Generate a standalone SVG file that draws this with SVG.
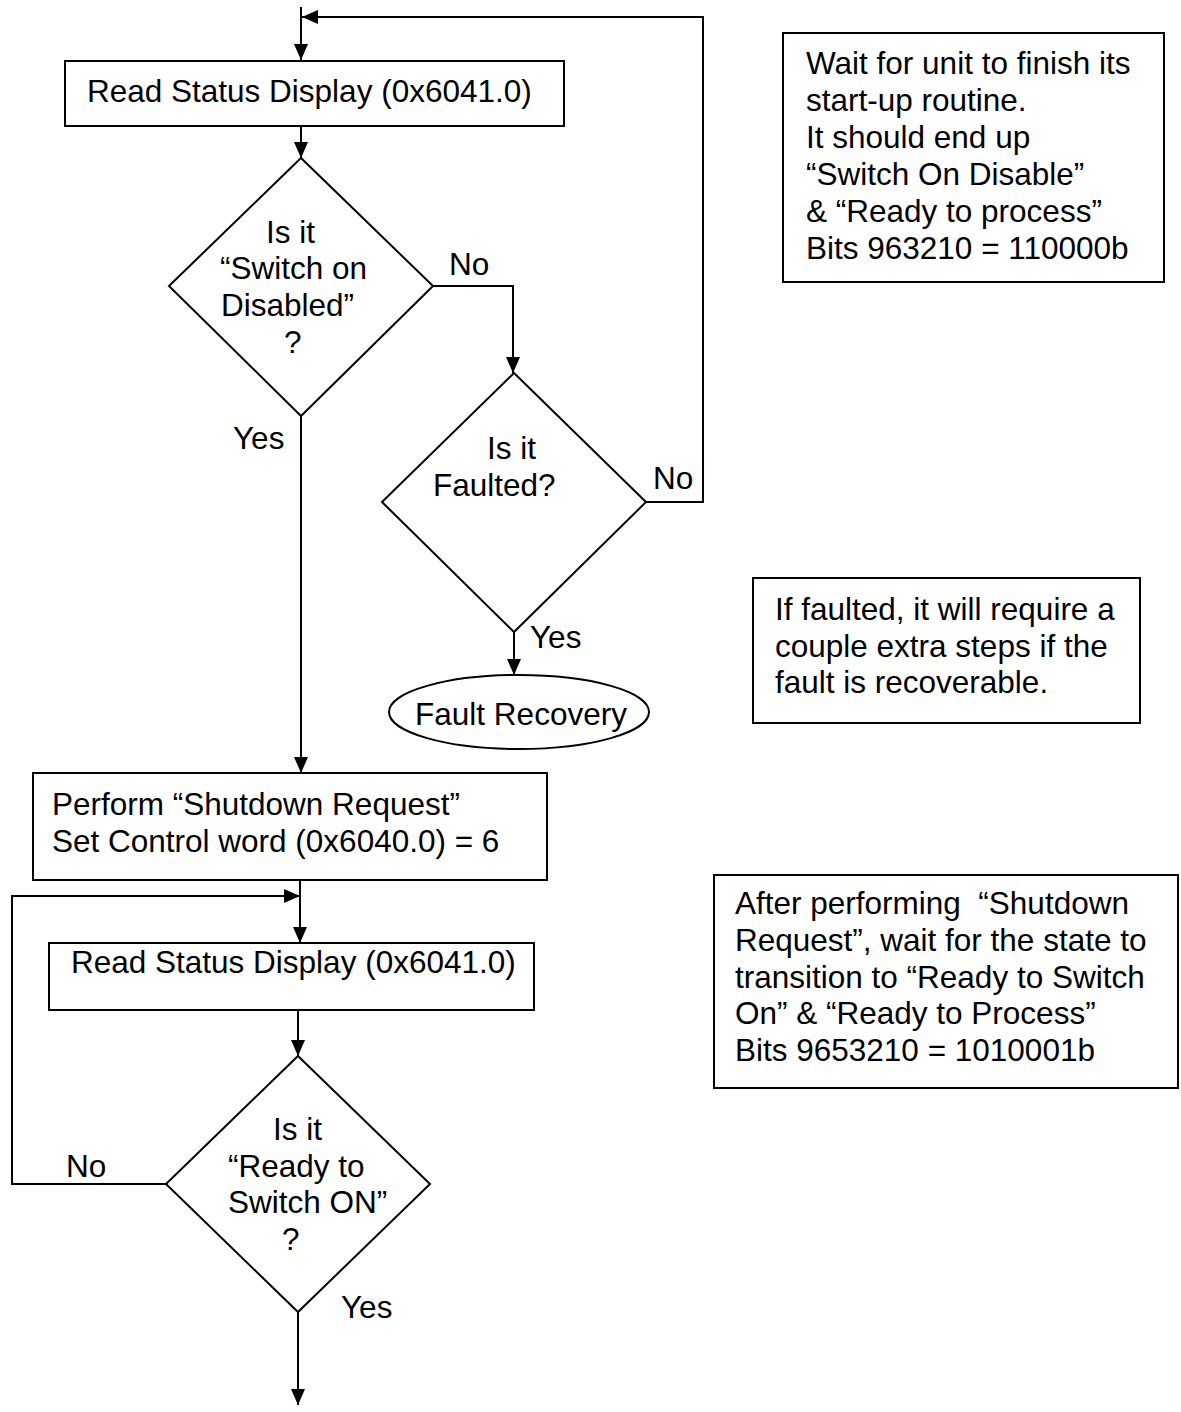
<svg xmlns="http://www.w3.org/2000/svg" width="1181" height="1412" viewBox="0 0 1181 1412">
<style>
.shape{fill:#fff;stroke:#000;stroke-width:2}
.conn{fill:none;stroke:#000;stroke-width:2}
text{font-family:"Liberation Sans",Arial,sans-serif;font-size:31.5px;fill:#000}
.m{text-anchor:middle}
</style>
<defs>
<marker id="arr" markerUnits="userSpaceOnUse" markerWidth="17" markerHeight="14" refX="16" refY="7" orient="auto">
<path d="M0,0 L16,7 L0,14 z" fill="#000"/>
</marker>
</defs>
<rect width="1181" height="1412" fill="#fff"/>
<g id="connectors">
<path class="conn" d="M301,7 V60" marker-end="url(#arr)"/>
<path class="conn" d="M301,126 V158" marker-end="url(#arr)"/>
<path class="conn" d="M433,286 H513 V373" marker-end="url(#arr)"/>
<path class="conn" d="M646,502 H703 V17 H302" marker-end="url(#arr)"/>
<path class="conn" d="M514,632 V675" marker-end="url(#arr)"/>
<path class="conn" d="M301,416 V773" marker-end="url(#arr)"/>
<path class="conn" d="M300,880 V943" marker-end="url(#arr)"/>
<path class="conn" d="M166,1184 H12 V896 H300" marker-end="url(#arr)"/>
<path class="conn" d="M298,1010 V1056" marker-end="url(#arr)"/>
<path class="conn" d="M298,1312 V1405" marker-end="url(#arr)"/>
<text x="449" y="275">No</text>
<text x="653" y="489">No</text>
<text x="233" y="449">Yes</text>
<text x="530" y="648">Yes</text>
<text x="66" y="1177">No</text>
<text x="341" y="1318">Yes</text>
</g>
<g id="read1">
<rect class="shape" x="65" y="61" width="499" height="65"/>
<text x="87" y="102">Read Status Display (0x6041.0)</text>
</g>
<g id="dec1">
<polygon class="shape" points="301,158 433,286 301,416 169,286"/>
<text x="266" y="243">Is it</text>
<text x="220" y="279">“Switch on</text>
<text x="221" y="316">Disabled”</text>
<text x="284" y="353">?</text>
</g>
<g id="dec2">
<polygon class="shape" points="514,373 646,502 514,632 382,502"/>
<text x="487" y="459">Is it</text>
<text x="433" y="496">Faulted?</text>
</g>
<g id="fault">
<ellipse class="shape" cx="519" cy="712" rx="130" ry="37"/>
<text class="m" x="521" y="725">Fault Recovery</text>
</g>
<g id="shutdown">
<rect class="shape" x="33" y="773" width="514" height="107"/>
<text x="52" y="815">Perform “Shutdown Request”</text>
<text x="52" y="852">Set Control word (0x6040.0) = 6</text>
</g>
<g id="read2">
<rect class="shape" x="49" y="943" width="485" height="67"/>
<text x="71" y="973">Read Status Display (0x6041.0)</text>
</g>
<g id="dec3">
<polygon class="shape" points="298,1056 430,1184 298,1312 166,1184"/>
<text x="273" y="1140">Is it</text>
<text x="228" y="1177">“Ready to</text>
<text x="228" y="1213">Switch ON”</text>
<text x="282" y="1250">?</text>
</g>
<g id="note1">
<rect class="shape" x="783" y="33" width="381" height="249"/>
<text x="806" y="74">Wait for unit to finish its</text>
<text x="806" y="111">start-up routine.</text>
<text x="806" y="148">It should end up</text>
<text x="806" y="185">“Switch On Disable”</text>
<text x="806" y="222">&amp; “Ready to process”</text>
<text x="806" y="259">Bits 963210 = 110000b</text>
</g>
<g id="note2">
<rect class="shape" x="753" y="578" width="387" height="145"/>
<text x="775" y="620">If faulted, it will require a</text>
<text x="775" y="657">couple extra steps if the</text>
<text x="775" y="693">fault is recoverable.</text>
</g>
<g id="note3">
<rect class="shape" x="714" y="875" width="464" height="213"/>
<text x="735" y="914" xml:space="preserve">After performing  “Shutdown</text>
<text x="735" y="951">Request”, wait for the state to</text>
<text x="735" y="988">transition to “Ready to Switch</text>
<text x="735" y="1024">On” &amp; “Ready to Process”</text>
<text x="735" y="1061">Bits 9653210 = 1010001b</text>
</g>
</svg>
